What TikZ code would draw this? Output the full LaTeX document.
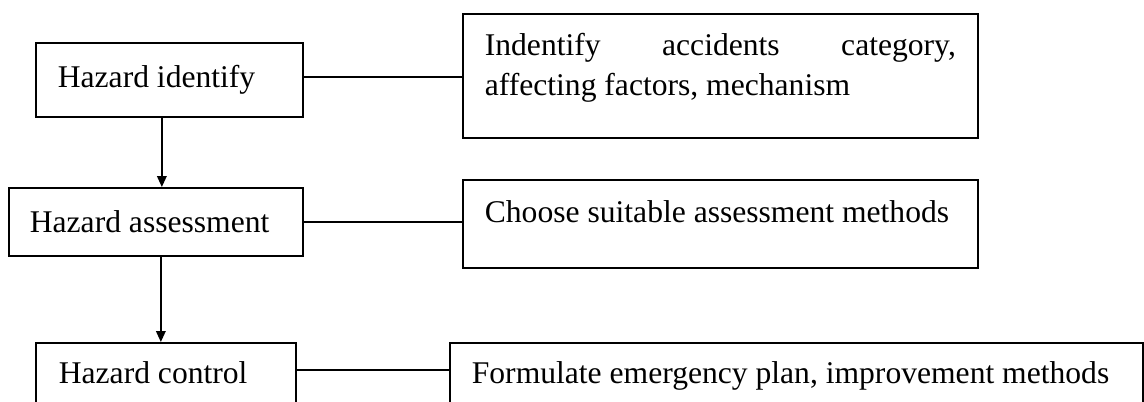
\documentclass[tikz,border=0pt]{standalone}
\usepackage{fontspec}
\setmainfont{Liberation Serif}
\usetikzlibrary{arrows.meta,calc}
\newcommand\bxtext[4]{\parbox[c][#2][t]{#1}{\vspace*{#3}\strut#4}}
\begin{document}
\begin{tikzpicture}[x=0.5pt,y=-0.5pt,
  box/.style={draw, line width=0.85pt, anchor=north west, inner ysep=0pt, inner xsep=11pt},
  link/.style={line width=0.85pt},
  arr/.style={line width=0.85pt, -{Triangle[length=5.5pt,width=4.8pt]}},
  font=\fontsize{15.8pt}{20pt}\selectfont]
\useasboundingbox (0,0) rectangle (1144,401);
% left column
\node[box] (hid) at (35,42) {\bxtext{111.5pt}{37pt}{8.5pt}{Hazard identify}};
\node[box, inner xsep=10.5pt] (has) at (8,187) {\bxtext{126pt}{34pt}{8.5pt}{Hazard assessment}};
\node[box, inner xsep=11.5pt] (hc) at (35,342) {\bxtext{107pt}{32pt}{6.5pt}{Hazard control}};
% right column
\node[box] (r1) at (462,13) {\bxtext{235.5pt}{62pt}{7pt}{Indentify\hfill accidents\hfill category,\\affecting factors, mechanism}};
\node[box] (r2) at (462,179) {\bxtext{235.5pt}{44pt}{7.5pt}{Choose suitable assessment methods}};
\node[box] (r3) at (449,342) {\bxtext{324.5pt}{32pt}{6.5pt}{Formulate emergency plan, improvement methods}};
% horizontal links
\coordinate (l1) at ($(hid.east)+(0,-3)$);
\draw[link] (l1) -- (l1 -| r1.west);
\draw[link] (has.east) -- (has.east -| r2.west);
\coordinate (l3) at ($(hc.east)+(0,-5)$);
\draw[link] (l3) -- (l3 -| r3.west);
% vertical arrows
\coordinate (a1) at ($(hid.south)+(-7.5,0)$);
\draw[arr] (a1) -- (a1 |- has.north);
\coordinate (a2) at ($(has.south)+(5,0)$);
\draw[arr] (a2) -- (a2 |- hc.north);
\end{tikzpicture}
\end{document}
